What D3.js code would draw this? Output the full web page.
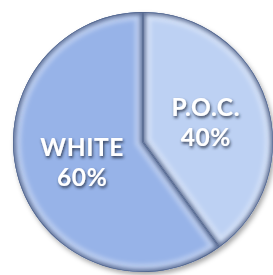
<!DOCTYPE html>
<html lang="en">
<head>
<meta charset="UTF-8">
<title>Pie</title>
<script src="https://d3js.org/d3.v7.min.js"></script>
<style>
  body, html { margin: 0; padding: 0; background: #fff; }
  .label { font-family: Lato, sans-serif; font-weight: 700; fill: #fff; }
</style>
</head>
<body>
<div id="chart"></div>
<script>
  var categories = ["P.O.C.", "WHITE"];
  var shares = [40, 60];
  var colors = ["#bdd1f3", "#97b3e8"];

  var width = 273, height = 275;
  var cx = 143, cy = 142, radius = 130;

  var svg = d3.select("#chart").append("svg")
      .attr("width", width)
      .attr("height", height);

  var defs = svg.append("defs");

  // outer soft shadow
  var shadow = defs.append("filter").attr("id", "outerShadow")
      .attr("x", "-20%").attr("y", "-20%").attr("width", "140%").attr("height", "140%");
  shadow.append("feDropShadow")
      .attr("dx", 2).attr("dy", 3).attr("stdDeviation", 2.5)
      .attr("flood-color", "#000").attr("flood-opacity", 0.35);

  var blur = defs.append("filter").attr("id", "edgeBlur")
      .attr("x", "-20%").attr("y", "-20%").attr("width", "140%").attr("height", "140%");
  blur.append("feGaussianBlur").attr("stdDeviation", 2.2);

  var textShadow = defs.append("filter").attr("id", "textShadow")
      .attr("x", "-30%").attr("y", "-30%").attr("width", "160%").attr("height", "160%");
  textShadow.append("feDropShadow")
      .attr("dx", 1).attr("dy", 2).attr("stdDeviation", 1.6)
      .attr("flood-color", "#1f2a40").attr("flood-opacity", 0.85);

  var pie = d3.pie().sort(null).value(function (d) { return d; });
  var arcs = pie(shares);

  var arc = d3.arc().innerRadius(0).outerRadius(radius);
  var labelArc = d3.arc().innerRadius(0).outerRadius(radius);

  var g = svg.append("g").attr("transform", "translate(" + cx + "," + cy + ")");

  // shadow base
  g.append("circle").attr("r", radius).attr("fill", "#8aa4d6")
      .attr("filter", "url(#outerShadow)");

  arcs.forEach(function (d, i) {
    defs.append("clipPath").attr("id", "clip" + i)
      .append("path").attr("d", arc(d));

    var sg = g.append("g").attr("clip-path", "url(#clip" + i + ")");

    sg.append("path").attr("d", arc(d)).attr("fill", colors[i]);

    // light inner band
    sg.append("path").attr("d", arc(d))
        .attr("fill", "none")
        .attr("stroke", "#ffffff")
        .attr("stroke-opacity", 0.35)
        .attr("stroke-width", 16)
        .attr("filter", "url(#edgeBlur)");

    // dark bevel at the edge
    sg.append("path").attr("d", arc(d))
        .attr("fill", "none")
        .attr("stroke", "#3d4f78")
        .attr("stroke-opacity", 0.8)
        .attr("stroke-width", 5)
        .attr("filter", "url(#edgeBlur)");

    sg.append("path").attr("d", arc(d))
        .attr("fill", "none")
        .attr("stroke", "#55688f")
        .attr("stroke-width", 1.4);
  });

  var labels = g.selectAll("text.label")
      .data(arcs)
      .enter().append("text")
      .attr("class", "label")
      .attr("text-anchor", "middle")
      .attr("font-size", 24.5)
      .attr("letter-spacing", 0.6)
      .attr("filter", "url(#textShadow)")
      .attr("transform", function (d) {
        var c = labelArc.centroid(d);
        return "translate(" + (c[0] + 1) + "," + (c[1] - 6) + ")";
      });

  labels.append("tspan").attr("x", 0).attr("y", 0)
      .text(function (d, i) { return categories[i]; });
  labels.append("tspan").attr("x", 0).attr("y", 30)
      .text(function (d) { return d.data + "%"; });
</script>
</body>
</html>
